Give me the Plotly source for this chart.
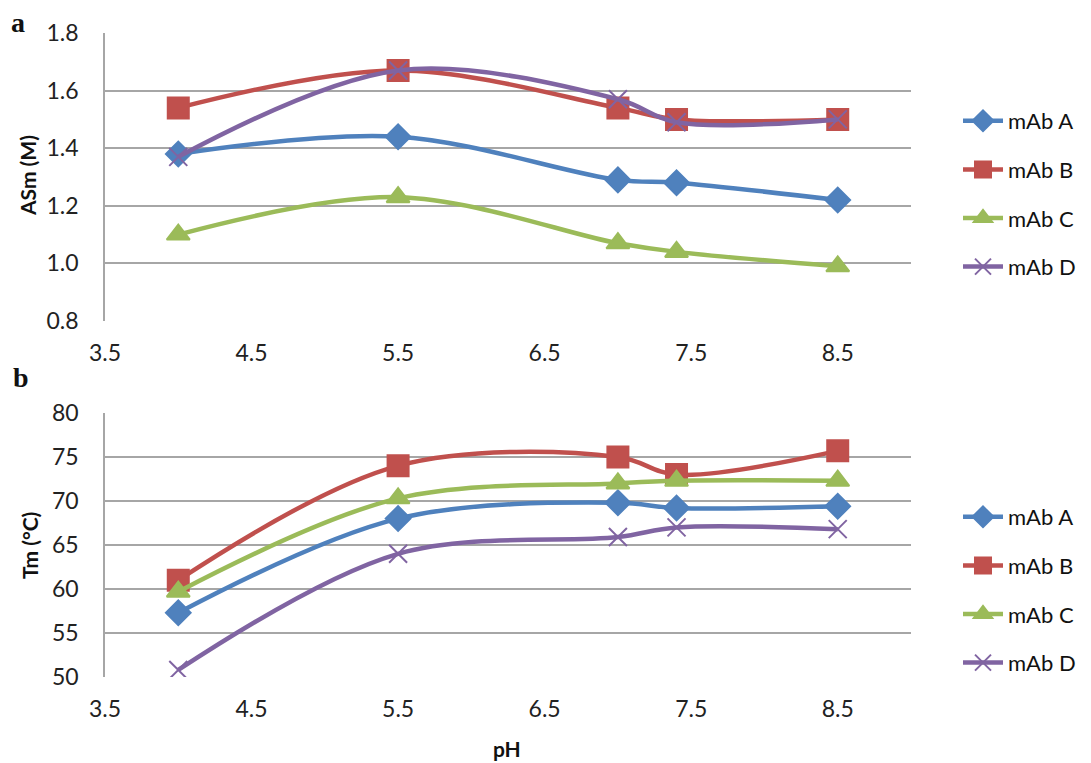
import plotly.graph_objects as go

# pH values measured
ph = [4.0, 5.5, 7.0, 7.4, 8.5]
series_names = ['mAb A', 'mAb B', 'mAb C', 'mAb D']

# panel a: ASm (M)
asm_a = [1.38, 1.44, 1.29, 1.28, 1.22]
asm_b = [1.54, 1.67, 1.54, 1.50, 1.50]
asm_c = [1.10, 1.23, 1.07, 1.04, 0.99]
asm_d = [1.37, 1.67, 1.57, 1.49, 1.50]

# panel b: Tm (°C)
tm_a = [57.3, 68.0, 69.8, 69.2, 69.4]
tm_b = [61.0, 74.0, 75.0, 73.0, 75.7]
tm_c = [59.7, 70.3, 72.0, 72.3, 72.3]
tm_d = [50.8, 64.0, 65.9, 67.0, 66.8]

colors = ['#4F81BD', '#C0504D', '#9BBB59', '#8064A2']
symbols = ['diamond', 'square', 'triangle-up', 'x-thin']
sizes = [19, 21, 20, 18]

fig = go.Figure()

panels = [
    ([asm_a, asm_b, asm_c, asm_d], 'x', 'y', 'legend'),
    ([tm_a, tm_b, tm_c, tm_d], 'x2', 'y2', 'legend2'),
]
for vals, xa, ya, leg in panels:
    for i, v in enumerate(vals):
        fig.add_trace(go.Scatter(
            x=ph, y=v, name=series_names[i],
            xaxis=xa, yaxis=ya, legend=leg,
            legendgroup=leg + str(i),
            mode='lines+markers',
            line=dict(color=colors[i], width=4.5, shape='spline', smoothing=1),
            marker=dict(symbol=symbols[i], size=sizes[i], color=colors[i],
                        line=dict(color=colors[i], width=2)),
        ))

W, H = 1091, 763
OFF = 8  # page body margin


def px(x):
    return (x - OFF) / W


def py(y):
    return 1 - (y - OFF) / H


xdom = [px(105), px(911)]
grid = '#A6A6A6'
font_main = 'Lato, Open Sans, sans-serif'
tickfont = dict(family=font_main, size=23, color='#222')

xcommon = dict(range=[3.5, 9.0], tick0=3.5, dtick=1, tickformat='.1f',
               showgrid=False, zeroline=False, showline=False,
               tickfont=tickfont, ticks='', ticklabelstandoff=16,
               automargin=False)
ycommon = dict(showgrid=True, gridcolor=grid, gridwidth=1.5, zeroline=False,
               showline=True, linecolor=grid, linewidth=1.5,
               tickfont=tickfont, ticks='', ticklabelstandoff=20,
               automargin=False)

legcommon = dict(x=px(958), xanchor='left', yanchor='top',
                 font=dict(family=font_main, size=22, color='#111'),
                 tracegroupgap=17, bgcolor='rgba(0,0,0,0)', itemwidth=40)

fig.update_layout(
    width=W, height=H,
    margin=dict(l=0, r=0, t=0, b=0),
    paper_bgcolor='white', plot_bgcolor='white',
    xaxis=dict(domain=xdom, anchor='y', **xcommon),
    yaxis=dict(domain=[py(321), py(33)], anchor='x',
               range=[0.8, 1.8], dtick=0.2, tickformat='.1f', **ycommon),
    xaxis2=dict(domain=xdom, anchor='y2', **xcommon),
    yaxis2=dict(domain=[py(677), py(413)], anchor='x2',
                range=[50, 80], dtick=5, **ycommon),
    legend=dict(y=py(100), **legcommon),
    legend2=dict(y=py(496), **legcommon),
    showlegend=True,
    annotations=[
        dict(text='<b>a</b>', x=px(18), y=py(22), xref='paper', yref='paper',
             xanchor='center', yanchor='middle', showarrow=False,
             font=dict(family='Liberation Serif', size=28, color='#111')),
        dict(text='<b>b</b>', x=px(21), y=py(378), xref='paper', yref='paper',
             xanchor='center', yanchor='middle', showarrow=False,
             font=dict(family='Liberation Serif', size=28, color='#111')),
        dict(text='<b>ASm (M)</b>', x=px(27), y=py(176), xref='paper', yref='paper',
             xanchor='center', yanchor='middle', showarrow=False, textangle=-90,
             font=dict(family=font_main, size=21, color='#111')),
        dict(text='<b>Tm (°C)</b>', x=px(29), y=py(546), xref='paper', yref='paper',
             xanchor='center', yanchor='middle', showarrow=False, textangle=-90,
             font=dict(family=font_main, size=21, color='#111')),
        dict(text='<b>pH</b>', x=px(507), y=py(748), xref='paper', yref='paper',
             xanchor='center', yanchor='middle', showarrow=False,
             font=dict(family=font_main, size=21, color='#111')),
    ],
)

fig.write_html('out.html')
